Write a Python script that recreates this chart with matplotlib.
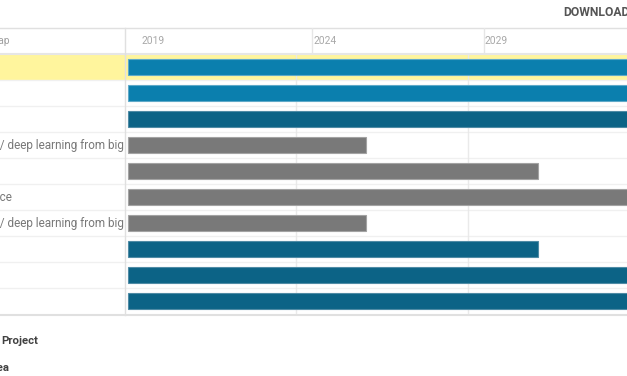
import matplotlib
matplotlib.use("Agg")
import matplotlib.pyplot as plt
from matplotlib.lines import Line2D

W, H = 627, 376
plt.rcParams['font.family'] = ['Roboto', 'DejaVu Sans']

# ---- data ----
row_labels = ["Flagship programme", "Research infrastructure", "Open data platform",
              "Machine learning / deep learning from big", "Sensor networks",
              "Data science", "Machine learning / deep learning from big",
              "Digital twins", "Cloud computing", "Interoperability"]
starts = [2019.1, 2019.1, 2019.1, 2019.1, 2019.1, 2019.1, 2019.1, 2019.1, 2019.1, 2019.1]
ends = [2036, 2036, 2036, 2026.0, 2031.0, 2036, 2026.0, 2031.0, 2036, 2036]
groups = ["light", "light", "dark", "grey", "grey", "grey", "grey", "dark", "dark", "dark"]
group_colors = {"light": "#0b7fae", "dark": "#0c6386", "grey": "#797979"}
group_edges = {"light": "#5fa9c8", "dark": "#4f8ba5", "grey": "#a3a3a3"}
highlighted = [0]
tick_years = [2019, 2024, 2029]
x_min, x_max = 2019.0, 2033.6
header_title = "Roadmap"
footer_labels = ["Project", "Area"]

fig = plt.figure(figsize=(W / 100, H / 100), dpi=100)
fig.patch.set_facecolor("white")

def fx(px):
    return px / W

def fy(py):
    return 1 - py / H

# overlay axes in pixel coordinates for chrome
ov = fig.add_axes([0, 0, 1, 1], zorder=0)
ov.set_xlim(0, W)
ov.set_ylim(H, 0)
ov.axis("off")

row_h = 26
top_body = 54
n = len(row_labels)
bottom_body = top_body + n * row_h

# highlight rows
for i in highlighted:
    ov.add_patch(plt.Rectangle((0, top_body + i * row_h + 1), W, row_h - 1,
                               facecolor="#fff59d", edgecolor="none", zorder=0))

# row separators
for i in range(1, n):
    ov.add_line(Line2D([0, W], [top_body + i * row_h] * 2, color="#f0f0f0", lw=1, zorder=1))
ov.add_line(Line2D([0, W], [28, 28], color="#e0e0e0", lw=1, zorder=1))
ov.add_line(Line2D([0, W], [top_body, top_body], color="#e6e6e6", lw=1.5, zorder=1))
ov.add_line(Line2D([0, W], [bottom_body + 1, bottom_body + 1], color="#e0e0e0", lw=1.5, zorder=1))
ov.add_line(Line2D([124.5, 124.5], [28, bottom_body + 1], color="#e0e0e0", lw=1, zorder=3))

# left labels (truncated by panel)
for i, lab in enumerate(row_labels):
    if i in (3, 5, 6):
        xr = 123.5 if i != 5 else 12
        ov.text(xr, top_body + i * row_h + row_h / 2 + 0.5, lab, ha="right", va="center",
                fontsize=8.5, color="#787878", zorder=2)
ov.text(10, 41, header_title, ha="right", va="center", fontsize=7.3, color="#a0a0a0")
ov.text(38, 341, footer_labels[0], ha="right", va="center", fontsize=8.2,
        fontweight="bold", color="#424242")
ov.text(9.5, 368, footer_labels[1], ha="right", va="center", fontsize=8.2,
        fontweight="bold", color="#424242")
ov.text(563, 12, "DOWNLOAD", ha="left", va="center", fontsize=8.7,
        fontweight="bold", color="#555555")

# body axes
ax = fig.add_axes([fx(125), fy(bottom_body), fx(W - 125), (n * row_h) / H], zorder=2)
ax.patch.set_alpha(0)
ax.set_xlim(x_min, x_max)
ax.set_ylim(n, 0)
for s in ax.spines.values():
    s.set_visible(False)
ax.set_xticks([])
ax.set_yticks([])
for yr in tick_years[1:]:
    ax.axvline(yr - 0.03, color="#e8e8e8", lw=1, zorder=1, alpha=0.9)

for i in range(n):
    ax.barh(i + 0.5, ends[i] - starts[i], left=starts[i], height=0.58,
            color=group_colors[groups[i]], edgecolor=group_edges[groups[i]],
            linewidth=0.8, zorder=3)

# header axes (time scale)
hx = fig.add_axes([fx(125), fy(top_body), fx(W - 125), 26 / H], zorder=2)
hx.patch.set_alpha(0)
hx.set_xlim(x_min, x_max)
hx.set_ylim(0, 1)
hx.axis("off")
offset = 0.44
for yr in tick_years:
    if yr != tick_years[0]:
        hx.axvline(yr + offset, color="#e6e6e6", lw=1)
    hx.text(yr + offset + 0.03, 0.5, str(yr), ha="left", va="center",
            fontsize=7.4, color="#a8a8a8")

fig.savefig("out.png", dpi=100, facecolor="white")
